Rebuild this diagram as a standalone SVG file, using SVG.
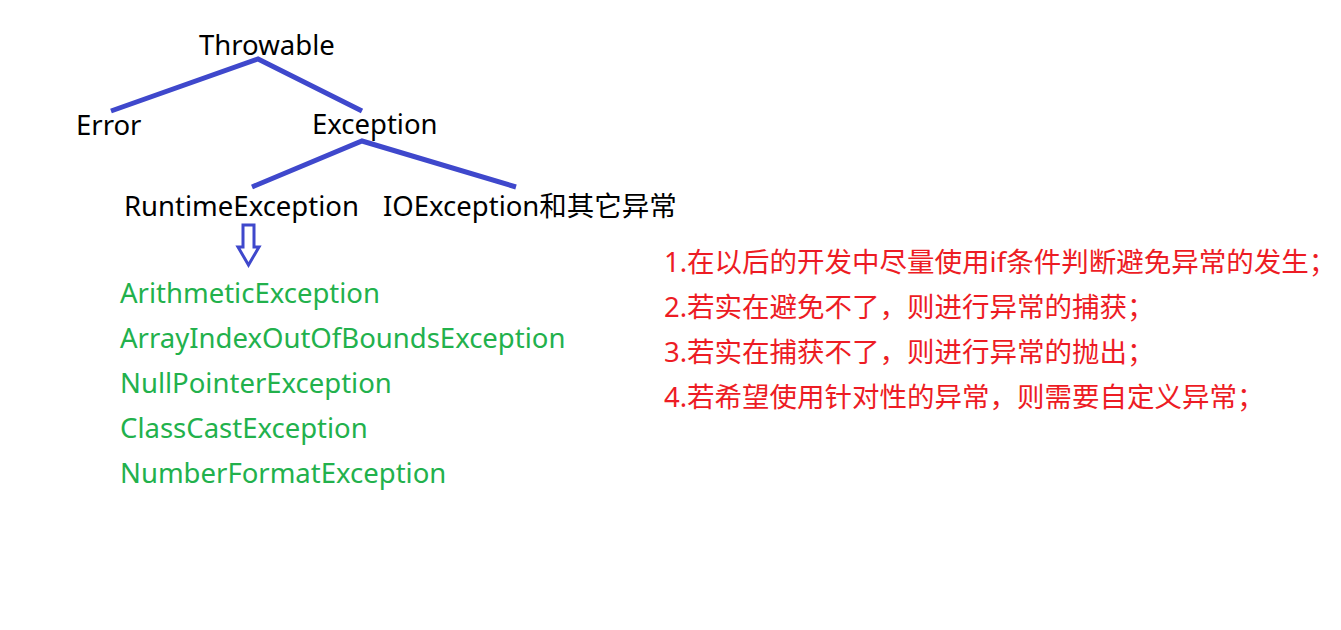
<svg xmlns="http://www.w3.org/2000/svg" width="1341" height="630" viewBox="0 0 1341 630">
<style>
text{font-family:"Noto Sans","Noto Sans CJK SC",sans-serif;font-size:27.5px}
.k{fill:#000}
.g{fill:#22b14c}
.r{fill:#ed1c24}
.ln{stroke:#3f48cc;stroke-width:5;fill:none;stroke-linecap:butt;stroke-linejoin:miter}
</style>
<rect width="1341" height="630" fill="#fff"/>
<g id="connectors">
<polyline class="ln" points="111,111 258,59 362,111"/>
<polyline class="ln" points="252,187 362,141 516,187"/>
<path d="M243,225 H254 V247 H259 L248.5,265 L238,247 H243 Z" fill="#fff" stroke="#3f48cc" stroke-width="3"/>
</g>
<g id="throwable"><text class="k" x="199" y="55" font-size="27">Throwable</text></g>
<g id="error"><text class="k" x="76" y="135">Error</text></g>
<g id="exception"><text class="k" x="312" y="134">Exception</text></g>
<g id="runtime"><text class="k" x="124" y="216">RuntimeException</text></g>
<g id="ioexception"><text class="k" x="383" y="216">IOException和其它异常</text></g>
<g id="runtime-list">
<text class="g" x="120" y="303">ArithmeticException</text>
<text class="g" x="120" y="348">ArrayIndexOutOfBoundsException</text>
<text class="g" x="120" y="393">NullPointerException</text>
<text class="g" x="120" y="438">ClassCastException</text>
<text class="g" x="120" y="483">NumberFormatException</text>
</g>
<g id="notes">
<text class="r" x="664" y="272">1.在以后的开发中尽量使用if条件判断避免异常的发生；</text>
<text class="r" x="664" y="317">2.若实在避免不了，则进行异常的捕获；</text>
<text class="r" x="664" y="362">3.若实在捕获不了，则进行异常的抛出；</text>
<text class="r" x="664" y="407">4.若希望使用针对性的异常，则需要自定义异常；</text>
</g>
</svg>
